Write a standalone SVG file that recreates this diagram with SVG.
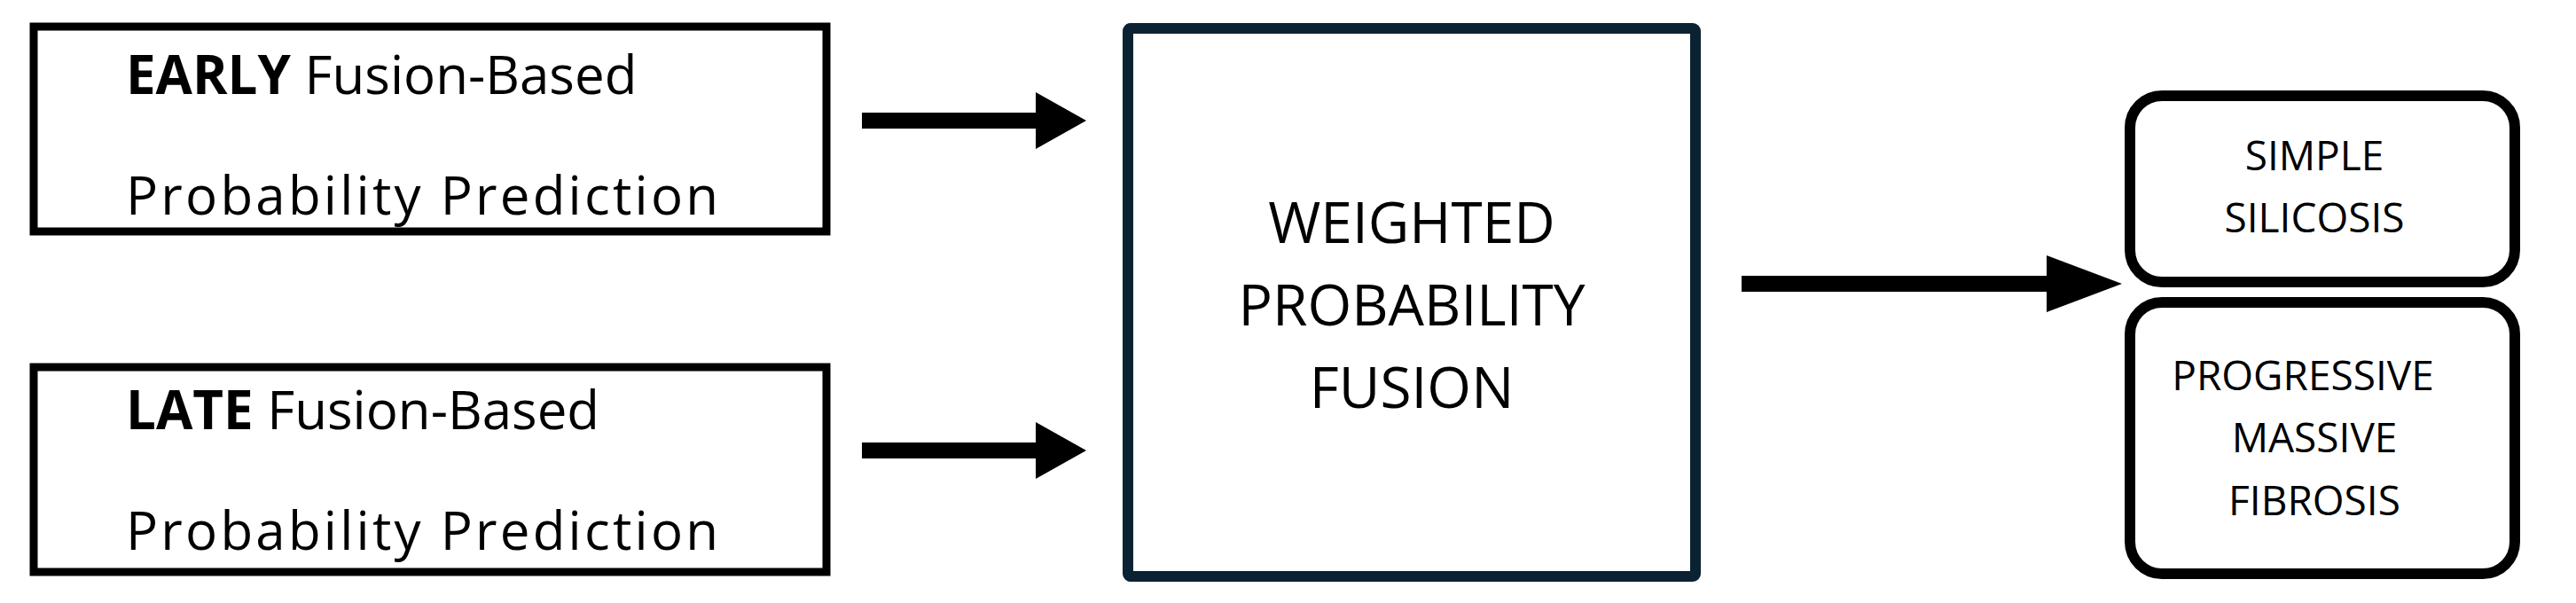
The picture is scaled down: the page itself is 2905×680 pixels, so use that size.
<svg xmlns="http://www.w3.org/2000/svg" width="2905" height="680" viewBox="0 0 2905 680">
<style>
.t{font-family:"Open Sans","Noto Sans",sans-serif;fill:#000}
.in{fill:#fff;stroke:#000;stroke-width:9}
.out{fill:#fff;stroke:#000;stroke-width:12}
.c{text-anchor:middle}
</style>
<defs>
<polygon id="ar" points="0,-10 0,10 0,10" />
</defs>
<g id="early">
<rect class="in" x="38" y="30" width="894" height="231"/>
<text class="t" x="142" y="106" font-size="60"><tspan font-weight="bold">EARLY</tspan> Fusion-Based</text>
<text class="t" x="142" y="242" font-size="60" textLength="668">Probability Prediction</text>
</g>
<g id="late">
<rect class="in" x="38" y="414" width="894" height="231"/>
<text class="t" x="142" y="484" font-size="60"><tspan font-weight="bold">LATE</tspan> Fusion-Based</text>
<text class="t" x="142" y="620" font-size="60" textLength="668">Probability Prediction</text>
</g>
<g id="fusion">
<rect x="1272" y="32" width="640" height="618" fill="#fff" stroke="#0b2233" stroke-width="12" rx="3"/>
<text class="t c" x="1592" y="274" font-size="64">WEIGHTED</text>
<text class="t c" x="1592" y="367" font-size="64">PROBABILITY</text>
<text class="t c" x="1592" y="460" font-size="64">FUSION</text>
</g>
<g id="simple">
<rect class="out" x="2402" y="108" width="434" height="210" rx="36"/>
<text class="t c" x="2610" y="192" font-size="46">SIMPLE</text>
<text class="t c" x="2610" y="262" font-size="46">SILICOSIS</text>
</g>
<g id="pmf">
<rect class="out" x="2402" y="341" width="434" height="306" rx="36"/>
<text class="t c" x="2597" y="440" font-size="46">PROGRESSIVE</text>
<text class="t c" x="2610" y="510" font-size="46">MASSIVE</text>
<text class="t c" x="2610" y="581" font-size="46">FIBROSIS</text>
</g>
<g id="connectors" fill="#000">
<polygon points="972,127 1168,127 1168,104 1225,136 1168,168 1168,145 972,145"/>
<polygon points="972,499 1168,499 1168,476 1225,508 1168,540 1168,517 972,517"/>
<polygon points="1964,311 2308,311 2308,288 2393,320 2308,352 2308,329 1964,329"/>
</g>
</svg>
